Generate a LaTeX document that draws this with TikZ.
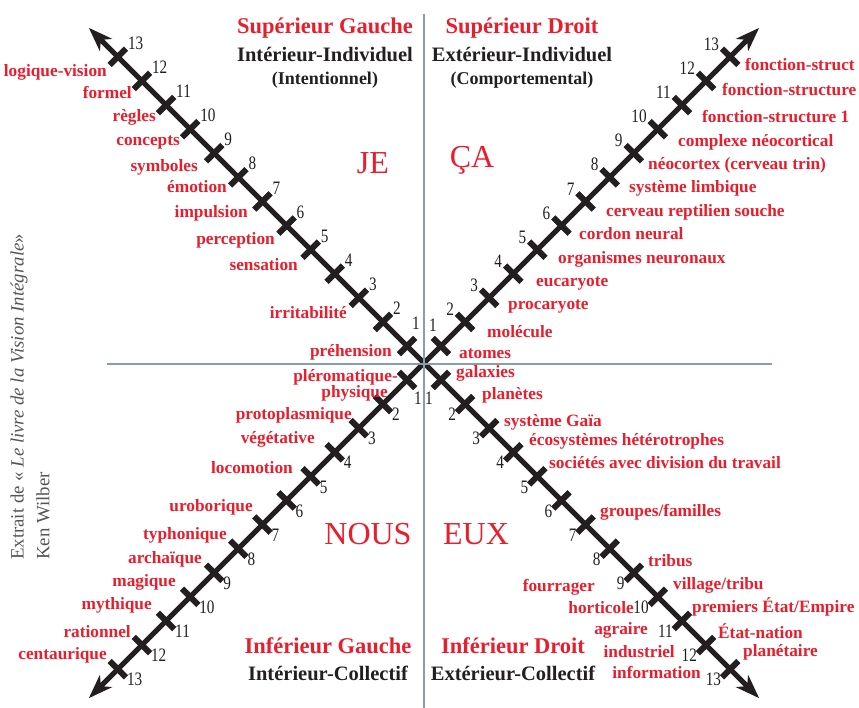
\documentclass[tikz,border=0pt]{standalone}
\usepackage{fontspec}
\setmainfont{Liberation Serif}
\newfontfamily\narrowfont[FakeStretch=0.8]{Liberation Serif}
\usetikzlibrary{arrows.meta, positioning}
\definecolor{quadred}{RGB}{232, 30, 45}
\definecolor{darktext}{RGB}{35, 31, 32}
\definecolor{axisgray}{RGB}{135, 158, 172}
\definecolor{sidegray}{RGB}{85, 85, 85}

\begin{document}
\begin{tikzpicture}[
    x=1pt, y=1pt,
    axis/.style={line width=5pt, draw=darktext, -{Stealth[length=24pt, width=17pt, inset=7pt]}},
    tickbar/.style={line width=6pt, draw=darktext},
    divider/.style={line width=2.5pt, draw=axisgray},
    lbl/.style={font=\fontsize{17.3}{19}\selectfont\bfseries, text=quadred, inner sep=0pt},
    lblw/.style={lbl, anchor=west},
    lble/.style={lbl, anchor=east},
    num/.style={font=\narrowfont\fontsize{19}{20}\selectfont, text=darktext, inner sep=0pt},
    quad/.style={font=\fontsize{22.5}{26}\selectfont\bfseries, text=quadred, inner sep=0pt},
    sub/.style={font=\fontsize{20.5}{24}\selectfont\bfseries, text=darktext, inner sep=0pt},
    paren/.style={sub, font=\fontsize{18}{21}\selectfont\bfseries},
    pron/.style={font=\fontsize{32}{36}\selectfont, text=quadred, inner sep=0pt},
    side/.style={font=\fontsize{18.8}{21}\selectfont, text=sidegray, rotate=90, anchor=west, inner sep=0pt}
]
\useasboundingbox (-424,-345) rectangle (435,363);

% Axes with ticks
\coordinate (o) at (0,0);
\foreach \a/\q in {45/ur, 135/ul, 225/ll, 315/lr} {
  \draw[axis] (o) -- (\a:474) coordinate (\q);
  \foreach \k in {1,...,13} {
    \path ({\a}:{24+(\k-1)*34.08}) coordinate (\q-\k);
    \draw[tickbar] (\q-\k) ++({\a+90}:11.5) -- ++({\a-90}:23);
  }
}

% Tick numbers
\node[num] (nul-1) at (-8,40) {1};
\node[num] (nur-1) at (9,38) {1};
\node[num] (nll-1) at (-6,-35) {1};
\node[num] (nlr-1) at (5,-35) {1};
\foreach \k in {2,...,13} {
  \node[num, anchor=south west] (nul-\k) at ([shift={(10,7)}]ul-\k) {\k};
  \node[num, anchor=south east] (nur-\k) at ([shift={(-11,6)}]ur-\k) {\k};
  \node[num, anchor=north west] (nll-\k) at ([shift={(9,-4)}]ll-\k) {\k};
  \node[num, anchor=north east] (nlr-\k) at ([shift={(-9,-4)}]lr-\k) {\k};
}

% Quadrant dividers
\coordinate (vtop) at (0,349);
\coordinate (vbot) at (0,-345);
\coordinate (hleft) at (-317,-1);
\coordinate (hright) at (348,-1);
\draw[divider] (vtop) -- (vbot);
\draw[divider] (hleft) -- (hright);

% Upper left: interior individual
\node[lble] (logvis) at (-317,291) {logique-vision};
\node[lble] (formel) at (-292,270) {formel};
\node[lble] (regles) at (-268,246) {règles};
\node[lble] (concepts) at (-244,221) {concepts};
\node[lble] (symboles) at (-226,196) {symboles};
\node[lble] (emotion) at (-197,176) {émotion};
\node[lble] (impulsion) at (-176,150) {impulsion};
\node[lble] (perception) at (-149,123) {perception};
\node[lble] (sensation) at (-126,98) {sensation};
\node[lble] (irrit) at (-77,50) {irritabilité};
\node[lble] (prehension) at (-32,11) {préhension};

% Upper right: exterior individual
\node[lblw] (fs3) at (321,298) {fonction-struct};
\node[lblw] (fs2) at (298,273) {fonction-structure};
\node[lblw] (fs1) at (278,246) {fonction-structure 1};
\node[lblw] (complexe) at (254,221) {complexe néocortical};
\node[lblw] (neocortex) at (224,198) {néocortex (cerveau trin)};
\node[lblw] (limbique) at (205,175) {système limbique};
\node[lblw] (reptilien) at (182,151) {cerveau reptilien souche};
\node[lblw] (cordon) at (155,129) {cordon neural};
\node[lblw] (neuronaux) at (134,104) {organismes neuronaux};
\node[lblw] (eucaryote) at (112,79) {eucaryote};
\node[lblw] (procaryote) at (84,56) {procaryote};
\node[lblw] (molecule) at (63,31) {molécule};
\node[lblw] (atomes) at (35,9) {atomes};

% Lower left: interior collective
\node[lble, align=right] (pleroma) at (-26,-22) {pléromatique-\\[-3pt]physique\kern10pt};
\node[lble] (protopl) at (-72,-52) {protoplasmique};
\node[lble] (vegetative) at (-109,-76) {végétative};
\node[lble] (locomotion) at (-131,-105) {locomotion};
\node[lble] (uroborique) at (-171,-144) {uroborique};
\node[lble] (typhonique) at (-197,-172) {typhonique};
\node[lble] (archaique) at (-222,-196) {archaïque};
\node[lble] (magique) at (-248,-219) {magique};
\node[lble] (mythique) at (-272,-242) {mythique};
\node[lble] (rationnel) at (-293,-269) {rationnel};
\node[lble] (centaur) at (-317,-292) {centaurique};

% Lower right: exterior collective
\node[lblw] (galaxies) at (32,-10) {galaxies};
\node[lblw] (planetes) at (58,-32) {planètes};
\node[lblw] (gaia) at (80,-59) {système Gaïa};
\node[lblw] (ecosys) at (105,-78) {écosystèmes hétérotrophes};
\node[lblw] (societes) at (125,-100) {sociétés avec division du travail};
\node[lblw] (groupes) at (176,-149) {groupes/familles};
\node[lblw] (tribus) at (224,-198) {tribus};
\node[lblw] (village) at (249,-222) {village/tribu};
\node[lblw] (empire) at (268,-244) {premiers État/Empire};
\node[lblw] (nation) at (294,-268) {État-nation};
\node[lblw] (planetaire) at (319,-289) {planétaire};
\node[lble] (fourrager) at (171,-224) {fourrager};
\node[lble] (horticole) at (210,-245) {horticole};
\node[lble] (agraire) at (224,-267) {agraire};
\node[lble] (industriel) at (251,-289) {industriel};
\node[lble] (information) at (277,-309) {information};

% Quadrant titles
\node[quad] (supg) at (-99,335) {Supérieur Gauche};
\node[sub] (intind) at (-99,308) {Intérieur-Individuel};
\node[paren] (intent) at (-99,283) {(Intentionnel)};
\node[quad] (supd) at (98,335) {Supérieur Droit};
\node[sub] (extind) at (98,308) {Extérieur-Individuel};
\node[paren] (comport) at (98,283) {(Comportemental)};
\node[quad] (infg) at (-96,-283) {Inférieur Gauche};
\node[sub] (intcol) at (-96,-310) {Intérieur-Collectif};
\node[quad] (infd) at (89,-283) {Inférieur Droit};
\node[sub] (extcol) at (89,-310) {Extérieur-Collectif};

% Pronouns
\node[pron] (je) at (-51,200) {JE};
\node[pron] (ca) at (48,203) {ÇA};
\node[pron] (nous) at (-56,-171) {NOUS};
\node[pron] (eux) at (52,-171) {EUX};

% Source
\node[side] (source) at (-405,-197) {Extrait de « \textit{Le livre de la Vision Intégrale}»};
\node[side] (author) at (-381,-197) {Ken Wilber};

\end{tikzpicture}
\end{document}
